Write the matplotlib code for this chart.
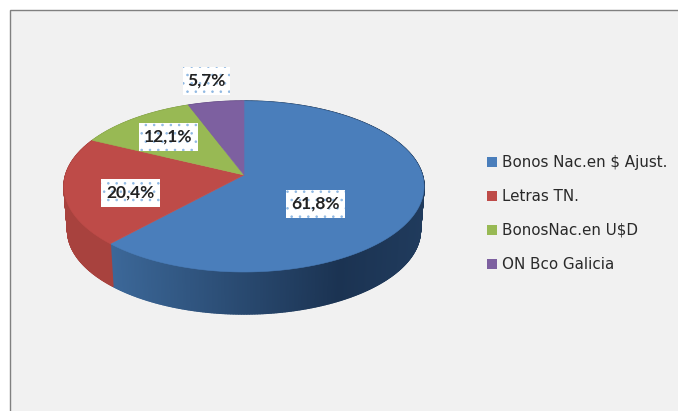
import numpy as np
import matplotlib
matplotlib.use("Agg")
import matplotlib.pyplot as plt
from matplotlib.collections import PolyCollection
from matplotlib.patches import Polygon, Rectangle

labels = ["Bonos Nac.en $ Ajust.", "Letras TN.", "BonosNac.en U$D", "ON Bco Galicia"]
values = [61.8, 20.4, 12.1, 5.7]
value_labels = ["61,8%", "20,4%", "12,1%", "5,7%"]

colors = ["#4a7ebb", "#be4b48", "#98b954", "#7d60a0"]
side_dark = ["#1b3352", "#8e3633", "#6f8a3c", "#5b4577"]
side_light = ["#3c6899", "#a8423e", "#86a44a", "#6d5490"]

# label box centres in pixels
label_xy = [(315, 204), (130.5, 193), (168, 137), (206.5, 81)]
legend_y = [162, 196, 230, 264]

plt.rcParams["hatch.linewidth"] = 0.6

fig = plt.figure(figsize=(6.78, 4.11), dpi=100, facecolor="white")
ax = fig.add_axes([0, 0, 1, 1])
ax.set_xlim(0, 678)
ax.set_ylim(411, 0)
ax.axis("off")

ax.add_patch(Rectangle((9.5, 10.5), 680, 410, facecolor="#f1f1f1", edgecolor="#808080", linewidth=1.0))


# pie is a tilted circle, so the centre sits above the middle of the ellipse
def project(pct):
    a = np.radians(np.asarray(pct) * 3.6)
    u, v = np.sin(a), -np.cos(a)
    w = 1 - 0.1345 * v
    return 244 + 178.4 * u / w, (60.4 * v + 175) / w


def lower(x, y):
    return 244 + (x - 244) * 0.98, 175 + (y - 175) * 0.98 + 44


starts = np.concatenate([[0], np.cumsum(values)[:-1]])

# side wall first, the top covers the back half
for start, val, light, dark in zip(starts, values, side_light, side_dark):
    pct = np.linspace(start, start + val, int(val * 8) + 2)
    x, y = project(pct)
    x2, y2 = lower(x, y)
    polys, cols = [], []
    c0 = np.array(matplotlib.colors.to_rgb(light))
    c1 = np.array(matplotlib.colors.to_rgb(dark))
    for i in range(len(pct) - 1):
        polys.append([(x[i], y[i]), (x[i + 1], y[i + 1]), (x2[i + 1], y2[i + 1]), (x2[i], y2[i])])
        t = np.interp(x[i], [110, 340, 424], [0, 1, 0.85])
        cols.append(c0 + (c1 - c0) * t)
    ax.add_collection(PolyCollection(polys, facecolors=cols, edgecolors=cols, linewidths=1.0))

for start, val, col in zip(starts, values, colors):
    pct = np.linspace(start, start + val, int(val * 8) + 2)
    x, y = project(pct)
    pts = [(244, 175)] + list(zip(x, y))
    ax.add_patch(Polygon(pts, closed=True, facecolor=col, edgecolor=col, linewidth=0.4))

for txt, (lx, ly) in zip(value_labels, label_xy):
    w = 47 if txt == "5,7%" else 59
    ax.add_patch(Rectangle((lx - w / 2, ly - 14), w, 28, facecolor="white", edgecolor="#8fb8e2",
                           hatch="..", linewidth=0))
    ax.text(lx, ly, txt, ha="center", va="center", fontsize=12.5, fontweight="bold",
            family="Lato", color="#222222")

for name, col, ly in zip(labels, colors, legend_y):
    ax.add_patch(Rectangle((487, ly - 5), 10, 10, facecolor=col, edgecolor="none"))
    ax.text(502, ly, name, ha="left", va="center", fontsize=10.9, family="DejaVu Sans", color="#2a2a2a")

fig.savefig("out.png", dpi=100)
